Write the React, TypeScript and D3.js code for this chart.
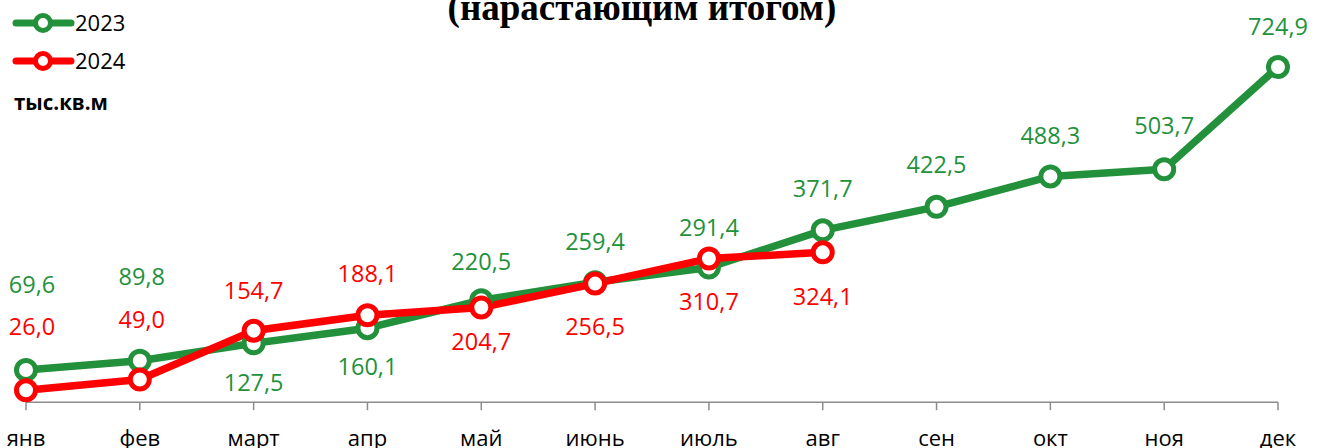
import React from 'react';
import * as d3 from 'd3';

const months = ['янв', 'фев', 'март', 'апр', 'май', 'июнь', 'июль', 'авг', 'сен', 'окт', 'ноя', 'дек'];
const values2023 = [69.6, 89.8, 127.5, 160.1, 220.5, 259.4, 291.4, 371.7, 422.5, 488.3, 503.7, 724.9];
const values2024 = [26.0, 49.0, 154.7, 188.1, 204.7, 256.5, 310.7, 324.1];

// label shift from the point, px (negative = above)
const labelShift2023 = [-85, -84, 40, 39, -38, -40, -40, -42, -42, -41, -44, -40];
const labelShift2024 = [-63, -60, -40, -41, 34, 43, 43, 44];

const width = 1319;
const height = 448;
const green = '#23913B';
const red = '#FF0000';
const font = '"Open Sans", sans-serif';

const fmt = (v: number) => v.toFixed(1).replace('.', ',');

const App: React.FC = () => {
    const x = d3.scalePoint<string>().domain(months).range([26, 1278]);
    const y = d3.scaleLinear().domain([0, 800]).range([402.2, 32.3]);

    const line = d3.line<number>()
        .x((_, i) => x(months[i]) as number)
        .y(d => y(d));

    const series = [
        { name: '2023', values: values2023, shift: labelShift2023, color: green },
        { name: '2024', values: values2024, shift: labelShift2024, color: red },
    ];

    return (
        <svg width={width} height={height} style={{ position: 'absolute', left: 0, top: 0 }}>
            <rect width={width} height={height} fill="#fff" />
            <text x={642} y={20} textAnchor="middle" fontFamily='"Liberation Serif", serif' fontWeight="bold" fontSize={37}>
                (нарастающим итогом)
            </text>

            {/* axis */}
            <line x1={x(months[0])} x2={x(months[months.length - 1])} y1={y(0)} y2={y(0)} stroke="#8c8c8c" strokeWidth={1.5} />
            {months.map(m => (
                <g key={m}>
                    <line x1={x(m)} x2={x(m)} y1={y(0)} y2={y(0) + 8} stroke="#8c8c8c" strokeWidth={1.5} />
                    <text x={x(m)} y={446} textAnchor="middle" fontFamily={font} fontSize={22} fill="#000">{m}</text>
                </g>
            ))}

            {series.map(s => (
                <g key={s.name}>
                    <path d={line(s.values) || ''} fill="none" stroke={s.color} strokeWidth={7.5} strokeLinejoin="round" />
                </g>
            ))}
            {series.map(s => (
                <g key={s.name + 'm'}>
                    {s.values.map((v, i) => (
                        <circle key={i} cx={x(months[i])} cy={y(v)} r={9.5} fill="#fff" stroke={s.color} strokeWidth={5} />
                    ))}
                </g>
            ))}
            {series.map(s => (
                <g key={s.name + 'l'}>
                    {s.values.map((v, i) => (
                        <text key={i} x={(x(months[i]) as number) + (i === 0 ? 6 : i === 1 ? 2 : 0)} y={y(v) + s.shift[i]} dy="0.35em"
                            textAnchor="middle" fontFamily={font} fontSize={23.5} fill={s.color}>{fmt(v)}</text>
                    ))}
                </g>
            ))}

            {/* legend */}
            {series.map((s, i) => (
                <g key={s.name + 'leg'} transform={`translate(0, ${23 + i * 38})`}>
                    <line x1={16} x2={71} y1={0} y2={0} stroke={s.color} strokeWidth={7} strokeLinecap="round" />
                    <circle cx={43} cy={0} r={7.5} fill="#fff" stroke={s.color} strokeWidth={5} />
                    <text x={75} y={8} fontFamily={font} fontSize={22} fill="#000">{s.name}</text>
                </g>
            ))}
            <text x={14} y={110} fontFamily={font} fontWeight="bold" fontSize={20.5} fill="#000">тыс.кв.м</text>
        </svg>
    );
};

export default App;
